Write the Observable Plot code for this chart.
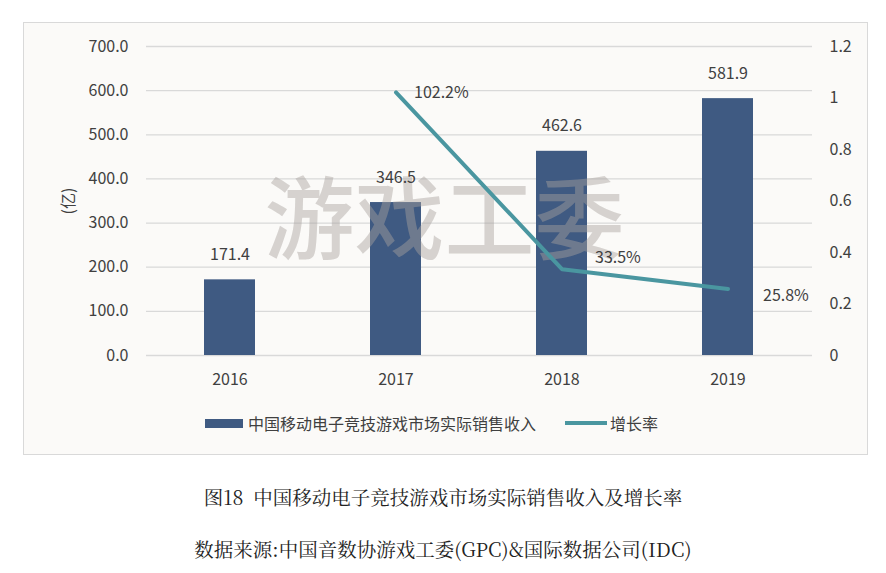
<!DOCTYPE html>
<html><head><meta charset="utf-8">
<script src="https://cdn.jsdelivr.net/npm/d3@7"></script>
<script src="https://cdn.jsdelivr.net/npm/@observablehq/plot@0.6"></script>
<style>
body{margin:0;background:#fff;}
#wrap{position:relative;width:886px;height:573px;font-family:"Noto Sans CJK SC","Noto Sans",sans-serif;color:#404040;overflow:hidden;}
#frame{position:absolute;left:23px;top:22px;width:843px;height:431px;border:1px solid #d9d9d9;background:#fbfaf8;}
#chart{position:absolute;left:0;top:0;}
.lg{position:absolute;font-size:16px;line-height:20px;top:413px;white-space:nowrap;}
.sw{position:absolute;}
.cap{position:absolute;left:0;width:886px;text-align:center;font-family:"Noto Serif CJK SC","Noto Sans CJK SC",serif;font-size:19.5px;color:#222;line-height:24px;white-space:pre;}
</style></head>
<body>
<div id="wrap">
  <div id="frame"></div>
  <div id="chart"></div>
  <div class="sw" id="sw1" style="left:205px;top:419px;width:38px;height:9px;"></div>
  <div class="lg" id="lg1" style="left:248px;"></div>
  <div class="sw" id="sw2" style="left:565px;top:421px;width:42px;height:4px;"></div>
  <div class="lg" id="lg2" style="left:610px;"></div>
  <div class="cap" id="cap1" style="top:485px;"></div>
  <div class="cap" id="cap2" style="top:537px;"></div>
</div>
<script>
const years = ["2016", "2017", "2018", "2019"];
const revenue = [171.4, 346.5, 462.6, 581.9];
const growth = [null, 1.022, 0.335, 0.258];
const growthLabels = ["", "102.2%", "33.5%", "25.8%"];
const leftTicks = [0, 100, 200, 300, 400, 500, 600, 700];
const rightTicks = [0, 0.2, 0.4, 0.6, 0.8, 1.0, 1.2];
const seriesNames = ["中国移动电子竞技游戏市场实际销售收入", "增长率"];
const yLabel = "(亿)";
const watermark = "游戏工委";
const caption1 = "图18  中国移动电子竞技游戏市场实际销售收入及增长率";
const caption2 = "数据来源:中国音数协游戏工委(GPC)&国际数据公司(IDC)";

const barColor = "#3f5a82";
const lineColor = "#4a96a0";
const k = 700 / 1.2;

const data = years.map((y, i) => ({year: y, revenue: revenue[i], growth: growth[i], label: growthLabels[i]}));
const lineData = data.filter(d => d.growth != null);

const rateText = (yr, dx, dy) => Plot.text(lineData.filter(d => d.year === yr), {
  x: "year", y: d => d.growth * k, text: "label", dx, dy, textAnchor: "start", fill: "#404040"
});

const chart = Plot.plot({
  width: 886, height: 460,
  marginLeft: 146, marginRight: 74, marginTop: 46, marginBottom: 105,
  style: {fontSize: "16px", fontFamily: '"Noto Sans CJK SC","Noto Sans",sans-serif', color: "#404040", background: "transparent"},
  x: {domain: years, paddingInner: 0.69, paddingOuter: 0.345},
  y: {domain: [0, 700]},
  marks: [
    Plot.gridY(leftTicks, {stroke: "#d9d9d9", strokeOpacity: 1, strokeWidth: 1.3}),
    Plot.barY(data, {x: "year", y: "revenue", fill: barColor}),
    Plot.text([watermark], {frameAnchor: "middle", dx: -35, dy: 22, fontSize: 90, fill: "#a8a29e", fillOpacity: 0.45, fontWeight: 500}),
    Plot.line(lineData, {x: "year", y: d => d.growth * k, stroke: lineColor, strokeWidth: 4}),
    Plot.text(data, {x: "year", y: "revenue", text: d => d.revenue.toFixed(1), dy: -25, fill: "#404040"}),
    rateText("2017", 18, 1),
    rateText("2018", 33, -11),
    rateText("2019", 35, 7),
    Plot.axisY(leftTicks, {anchor: "left", tickSize: 0, tickPadding: 18, tickFormat: d3.format(".1f"), label: yLabel, labelAnchor: "center", labelOffset: 84, labelArrow: "none"}),
    Plot.axisY(rightTicks.map(t => t * k), {anchor: "right", tickSize: 0, tickPadding: 17, tickFormat: d => String(+(d / k).toFixed(1)), label: null}),
    Plot.axisX({tickSize: 0, tickPadding: 18, label: null})
  ]
});
document.getElementById("chart").appendChild(chart);
document.getElementById("sw1").style.background = barColor;
document.getElementById("sw2").style.background = lineColor;
document.getElementById("lg1").textContent = seriesNames[0];
document.getElementById("lg2").textContent = seriesNames[1];
document.getElementById("cap1").textContent = caption1;
document.getElementById("cap2").textContent = caption2;
</script>
</body></html>
